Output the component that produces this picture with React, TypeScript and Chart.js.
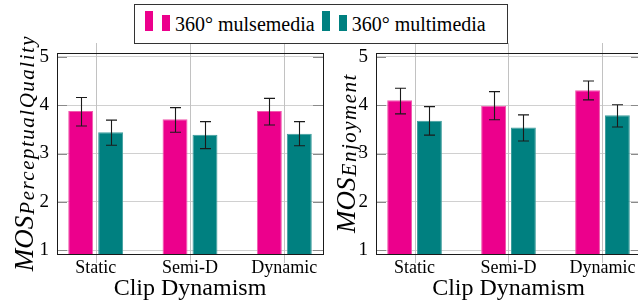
import React, { useEffect, useRef } from 'react';
import { Chart, registerables } from 'chart.js';

Chart.register(...registerables);

// ---------- data ----------
const categories = ['Static', 'Semi-D', 'Dynamic'];
const yTicks = [1, 2, 3, 4, 5];
const seriesNames = ['360° mulsemedia', '360° multimedia'];
const xTitle = 'Clip Dynamism';

// Perceptual quality panel
const pqMulsemedia = [3.88, 3.71, 3.88];
const pqMulsemediaLow = [3.57, 3.44, 3.59];
const pqMulsemediaHigh = [4.16, 3.95, 4.14];
const pqMultimedia = [3.44, 3.39, 3.41];
const pqMultimediaLow = [3.17, 3.10, 3.16];
const pqMultimediaHigh = [3.69, 3.66, 3.66];

// Enjoyment panel
const enMulsemedia = [4.10, 3.99, 4.31];
const enMulsemediaLow = [3.82, 3.70, 4.11];
const enMulsemediaHigh = [4.35, 4.28, 4.50];
const enMultimedia = [3.68, 3.54, 3.79];
const enMultimediaLow = [3.38, 3.26, 3.55];
const enMultimediaHigh = [3.97, 3.80, 4.01];

// ---------- style ----------
const PINK = '#EC008C';
const PINK_EDGE = '#F05AAE';
const TEAL = '#008080';
const TEAL_EDGE = '#3C9C9C';
const SERIF = "'Liberation Serif', 'Times New Roman', Tinos, 'DejaVu Serif', 'Noto Serif', FreeSerif, serif";

const framePlugin = {
  id: 'frame',
  beforeDatasetsDraw(chart: any) {
    const { ctx, chartArea, scales } = chart;
    const x = scales.x;
    ctx.save();
    ctx.strokeStyle = '#c2c2c2';
    ctx.lineWidth = 1;
    x.ticks.forEach((t: any) => {
      const px = Math.round(x.getPixelForValue(t.value)) + 0.5;
      ctx.beginPath();
      ctx.moveTo(px, chartArea.top - 10);
      ctx.lineTo(px, chartArea.bottom + 9);
      ctx.stroke();
    });
    ctx.restore();
  },
  afterDatasetsDraw(chart: any) {
    const { ctx, scales } = chart;
    const y = scales.y;
    ctx.save();
    ctx.strokeStyle = '#1a1a1a';
    ctx.lineWidth = 1.1;
    chart.data.datasets.forEach((ds: any, i: number) => {
      const meta = chart.getDatasetMeta(i);
      meta.data.forEach((el: any, j: number) => {
        const px = Math.round(el.x) + 0.5;
        const yHi = y.getPixelForValue(ds.errHigh[j]);
        const yLo = y.getPixelForValue(ds.errLow[j]);
        ctx.beginPath();
        ctx.moveTo(px, yHi);
        ctx.lineTo(px, yLo);
        ctx.moveTo(px - 5.5, yHi);
        ctx.lineTo(px + 5.5, yHi);
        ctx.moveTo(px - 5.5, yLo);
        ctx.lineTo(px + 5.5, yLo);
        ctx.stroke();
      });
    });
    ctx.restore();
  },
  afterDraw(chart: any) {
    const { ctx, chartArea, scales } = chart;
    const y = scales.y;
    const { left, right, top, bottom } = chartArea;
    ctx.save();
    // inside tick marks
    ctx.strokeStyle = '#8a8a8a';
    ctx.lineWidth = 1;
    y.ticks.forEach((t: any) => {
      const py = Math.round(y.getPixelForValue(t.value)) + 0.5;
      ctx.beginPath();
      ctx.moveTo(left, py);
      ctx.lineTo(left + 10, py);
      ctx.moveTo(right - 10, py);
      ctx.lineTo(right, py);
      ctx.stroke();
    });
    // frame
    ctx.strokeStyle = '#1a1a1a';
    ctx.lineWidth = 1;
    ctx.strokeRect(Math.round(left) + 0.5, Math.round(top) + 0.5, Math.round(right - left), Math.round(bottom - top));
    // y axis title with subscript
    const opts = chart.options.plugins.ytitle;
    if (opts) {
      const cy = (top + bottom) / 2;
      ctx.translate(left - opts.offset, cy);
      ctx.rotate(-Math.PI / 2);
      ctx.fillStyle = '#000';
      ctx.textBaseline = 'alphabetic';
      ctx.textAlign = 'left';
      ctx.font = `italic 27px ${SERIF}`;
      const wMain = ctx.measureText(opts.main).width;
      ctx.font = `italic 21px ${SERIF}`;
      (ctx as any).letterSpacing = '1.5px';
      const wSub = ctx.measureText(opts.sub).width;
      const start = -(wMain + wSub) / 2;
      (ctx as any).letterSpacing = '0px';
      ctx.font = `italic 27px ${SERIF}`;
      ctx.fillText(opts.main, start, 0);
      ctx.font = `italic 21px ${SERIF}`;
      (ctx as any).letterSpacing = '1.5px';
      ctx.fillText(opts.sub, start + wMain + 1, 1);
      (ctx as any).letterSpacing = '0px';
    }
    ctx.restore();
  },
};

type PanelProps = {
  left: number;
  width: number;
  axisWidth: number;
  padRight: number;
  titleMain: string;
  titleSub: string;
  titleOffset: number;
  mulse: number[];
  mulseLow: number[];
  mulseHigh: number[];
  multi: number[];
  multiLow: number[];
  multiHigh: number[];
};

function Panel(p: PanelProps) {
  const ref = useRef<HTMLCanvasElement>(null);
  useEffect(() => {
    if (!ref.current) return;
    const chart = new Chart(ref.current, {
      type: 'bar',
      data: {
        datasets: [
          {
            label: seriesNames[0],
            data: p.mulse.map((v, i) => ({ x: i, y: v })),
            backgroundColor: PINK,
            borderColor: PINK_EDGE,
            borderWidth: 1,
            categoryPercentage: 0.635,
            barPercentage: 0.833,
            errLow: p.mulseLow,
            errHigh: p.mulseHigh,
          } as any,
          {
            label: seriesNames[1],
            data: p.multi.map((v, i) => ({ x: i, y: v })),
            backgroundColor: TEAL,
            borderColor: TEAL_EDGE,
            borderWidth: 1,
            categoryPercentage: 0.635,
            barPercentage: 0.833,
            errLow: p.multiLow,
            errHigh: p.multiHigh,
          } as any,
        ],
      },
      options: {
        animation: false,
        responsive: false,
        maintainAspectRatio: false,
        layout: { padding: { top: 53, right: p.padRight, left: 0, bottom: 0 } },
        plugins: {
          legend: { display: false },
          tooltip: { enabled: false },
          ytitle: { main: p.titleMain, sub: p.titleSub, offset: p.titleOffset },
        } as any,
        scales: {
          x: {
            type: 'linear',
            offset: false,
            min: -0.41,
            max: 2.41,
            grid: { display: false, drawTicks: false, offset: false },
            border: { display: false },
            afterBuildTicks: (s: any) => {
              s.ticks = categories.map((_, i) => ({ value: i }));
            },
            afterFit: (s: any) => {
              s.height = 49;
            },
            ticks: {
              callback: (v: any) => categories[v] ?? '',
              font: { family: SERIF, size: 18 },
              color: '#000',
              padding: 3,
              maxRotation: 0,
              autoSkip: false,
            },
            title: {
              display: true,
              text: xTitle,
              font: { family: SERIF, size: 24, lineHeight: 1.2 },
              color: '#000',
              padding: { top: 0, bottom: 0 },
            },
          },
          y: {
            min: 0.92,
            max: 5.08,
            afterBuildTicks: (s: any) => {
              s.ticks = yTicks.map((v) => ({ value: v }));
            },
            afterFit: (s: any) => {
              s.width = p.axisWidth;
            },
            grid: { color: '#d0d0d0', lineWidth: 1, drawTicks: false },
            border: { display: false },
            ticks: {
              font: { family: SERIF, size: 19 },
              color: '#000',
              padding: 8,
            },
          },
        } as any,
      },
      plugins: [framePlugin],
    } as any);
    return () => chart.destroy();
  }, []);
  return (
    <canvas
      ref={ref}
      width={p.width}
      height={303}
      style={{ position: 'absolute', left: p.left, top: 0, width: p.width, height: 303 }}
    />
  );
}

function LegendItem({ color, label, first }: { color: string; label: string; first: boolean }) {
  return (
    <span style={{ marginLeft: first ? 0 : 7, whiteSpace: 'nowrap' }}>
      <span style={{ display: 'inline-block', width: 8, height: 20, background: color, marginRight: 9 }} />
      <span style={{ display: 'inline-block', width: 8, height: 16, background: color, marginRight: 5 }} />
      <span>{label}</span>
    </span>
  );
}

export default function App() {
  return (
    <div
      style={{
        position: 'absolute',
        left: 0,
        top: 0,
        width: 638,
        height: 303,
        overflow: 'hidden',
        background: '#fff',
      }}
    >
      <Panel
        left={0}
        width={330}
        axisWidth={57}
        padRight={7}
        titleMain="MOS"
        titleSub="PerceptualQuality"
        titleOffset={24.5}
        mulse={pqMulsemedia}
        mulseLow={pqMulsemediaLow}
        mulseHigh={pqMulsemediaHigh}
        multi={pqMultimedia}
        multiLow={pqMultimediaLow}
        multiHigh={pqMultimediaHigh}
      />
      <Panel
        left={318}
        width={326}
        axisWidth={58}
        padRight={3}
        titleMain="MOS"
        titleSub="Enjoyment"
        titleOffset={21}
        mulse={enMulsemedia}
        mulseLow={enMulsemediaLow}
        mulseHigh={enMulsemediaHigh}
        multi={enMultimedia}
        multiLow={enMultimediaLow}
        multiHigh={enMultimediaHigh}
      />
      <div
        style={{
          position: 'absolute',
          left: 134,
          top: 4,
          width: 374,
          height: 40,
          boxSizing: 'border-box',
          border: '1px solid #333',
          background: '#fff',
          paddingLeft: 10,
          fontFamily: SERIF,
          fontSize: 20,
          lineHeight: '38px',
          color: '#000',
          whiteSpace: 'nowrap',
        }}
      >
        <LegendItem color={PINK} label={seriesNames[0]} first={true} />
        <LegendItem color={TEAL} label={seriesNames[1]} first={false} />
      </div>
    </div>
  );
}
